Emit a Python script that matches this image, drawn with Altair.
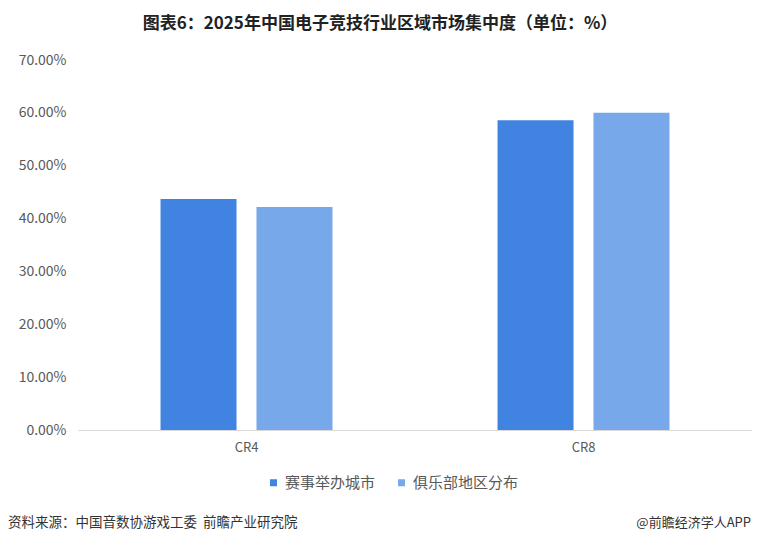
import altair as alt
import pandas as pd

categories = ["CR4", "CR8"]
series_names = ["赛事举办城市", "俱乐部地区分布"]
city_values = [0.437, 0.586]
club_values = [0.422, 0.600]
y_ticks = [0, 0.1, 0.2, 0.3, 0.4, 0.5, 0.6, 0.7]

title_text = "图表6：2025年中国电子竞技行业区域市场集中度（单位：%）"
source_text = "资料来源：中国音数协游戏工委\u00a0\u00a0前瞻产业研究院"
brand_text = "@前瞻经济学人APP"

rows = []
for c, v1, v2 in zip(categories, city_values, club_values):
    rows.append({"类别": c, "系列": series_names[0], "值": v1})
    rows.append({"类别": c, "系列": series_names[1], "值": v2})
df = pd.DataFrame(rows)

FONT = "Noto Sans CJK SC"
colors = ["#4183E0", "#76A8EA"]

bars = alt.Chart(df).mark_bar().encode(
    x=alt.X("类别:N", sort=categories,
            scale=alt.Scale(paddingInner=0, paddingOuter=0),
            axis=alt.Axis(title=None, labelAngle=0, ticks=False,
                          domainColor="#D9D9D9", labelColor="#595959",
                          labelFontSize=13, labelPadding=11, labelFont=FONT)),
    xOffset=alt.XOffset("系列:N", sort=series_names,
                        scale=alt.Scale(paddingInner=0.208, paddingOuter=0.86)),
    y=alt.Y("值:Q", scale=alt.Scale(domain=[0, 0.7], nice=False),
            axis=alt.Axis(title=None, format=".2%", values=y_ticks, grid=False,
                          domain=False, ticks=False, labelColor="#595959",
                          labelFontSize=14, labelPadding=12, labelFont=FONT)),
    color=alt.Color("系列:N", sort=series_names,
                    scale=alt.Scale(domain=series_names, range=colors),
                    legend=alt.Legend(title=None, orient="none", direction="horizontal",
                                      legendX=188, legendY=415, symbolType="square",
                                      symbolSize=49, symbolStrokeWidth=0,
                                      labelFontSize=15, labelColor="#595959",
                                      labelFont=FONT, columnPadding=18,
                                      labelOffset=4)),
)

foot = pd.DataFrame({"t": [source_text]})
source = alt.Chart(foot).mark_text(align="left", baseline="middle", fontSize=13.5,
                                   font=FONT, color="#333333").encode(
    text="t:N", x=alt.value(-70), y=alt.value(463))

foot2 = pd.DataFrame({"t": [brand_text]})
brand = alt.Chart(foot2).mark_text(align="right", baseline="middle", fontSize=13,
                                   font=FONT, color="#333333").encode(
    text="t:N", x=alt.value(673), y=alt.value(463))

chart = alt.layer(bars, source, brand).properties(
    width=674, height=370,
    background="white",
    title=alt.TitleParams(title_text, anchor="middle", dx=-35, offset=20,
                          fontSize=17, fontWeight="bold", font=FONT, color="#222222"),
    autosize=alt.AutoSizeParams(type="none"),
    padding={"left": 70, "top": 52, "right": 0, "bottom": 100},
).configure_view(strokeOpacity=0, strokeWidth=0)

chart.save("out.html", embed_options={"renderer": "svg", "actions": False})
